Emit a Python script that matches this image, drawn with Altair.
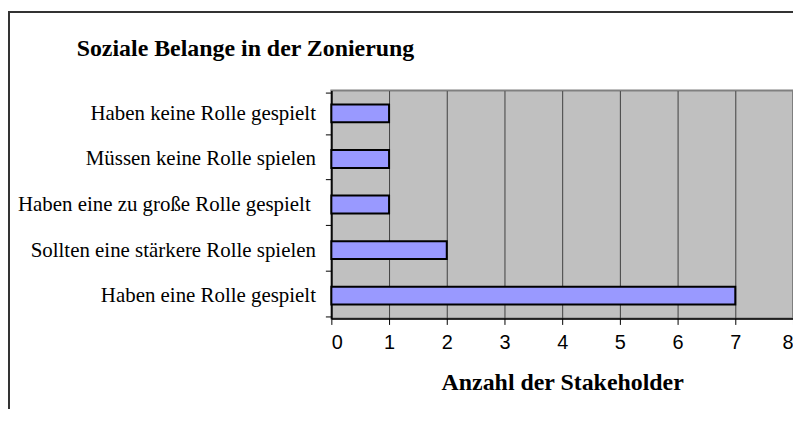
import altair as alt
import pandas as pd

categories = [
    "Haben keine Rolle gespielt",
    "Müssen keine Rolle spielen",
    "Haben eine zu große Rolle gespielt\u00a0\u200b",
    "Sollten eine stärkere Rolle spielen",
    "Haben eine Rolle gespielt",
]
values = [1, 1, 1, 2, 7]
x_ticks = [0, 1, 2, 3, 4, 5, 6, 7, 8]
chart_title = "Soziale Belange in der Zonierung"

df = pd.DataFrame({"Kategorie": categories, "Anzahl": values})

SERIF = "Liberation Serif"
SANS = "Liberation Sans"

frame = alt.Chart(alt.Data(values=[{}])).mark_rect(
    fill=None, stroke="#333333", strokeWidth=2, clip=False
).encode(
    x=alt.value(-324), x2=alt.value(700), y=alt.value(-79), y2=alt.value(500)
)

title_text = alt.Chart(alt.Data(values=[{"t": chart_title}])).mark_text(
    font=SERIF, fontSize=24, fontWeight="bold", color="black",
    align="left", baseline="alphabetic", clip=False
).encode(
    text="t:N", x=alt.value(-256), y=alt.value(-35)
)

bars = alt.Chart(df).mark_bar(
    color="#9999FF", stroke="black", strokeWidth=2, size=18
).encode(
    y=alt.Y(
        "Kategorie:N",
        sort=categories,
        title=None,
        axis=alt.Axis(
            labelFont=SERIF,
            labelFontSize=21,
            labelColor="black",
            labelPadding=10,
            tickBand="extent",
            tickSize=6,
            tickColor="black",
            domainColor="black",
            domainWidth=1.5,
            grid=False,
            labelLimit=400,
        ),
    ),
    x=alt.X(
        "Anzahl:Q",
        scale=alt.Scale(domain=[0, 8], nice=False),
        axis=alt.Axis(
            values=x_ticks,
            title="Anzahl der Stakeholder",
            titleFont=SERIF,
            titleFontSize=24,
            titleFontWeight="bold",
            titleColor="black",
            titlePadding=18,
            labelFont=SANS,
            labelFontSize=20,
            labelColor="black",
            labelPadding=8,
            tickSize=6,
            tickColor="black",
            domainColor="black",
            domainWidth=1.5,
            grid=True,
            gridColor="#404040",
            gridWidth=1,
        ),
    ),
)

chart = alt.layer(frame, title_text, bars).properties(
    width=464,
    height=229,
    padding={"left": 325, "top": 82, "right": 0, "bottom": 90},
    autosize=alt.AutoSizeParams(type="none"),
    background="white",
).configure_view(
    fill="#C0C0C0", stroke="#808080", strokeWidth=2
)

chart.save("out.html", embed_options={"renderer": "svg", "actions": False})
